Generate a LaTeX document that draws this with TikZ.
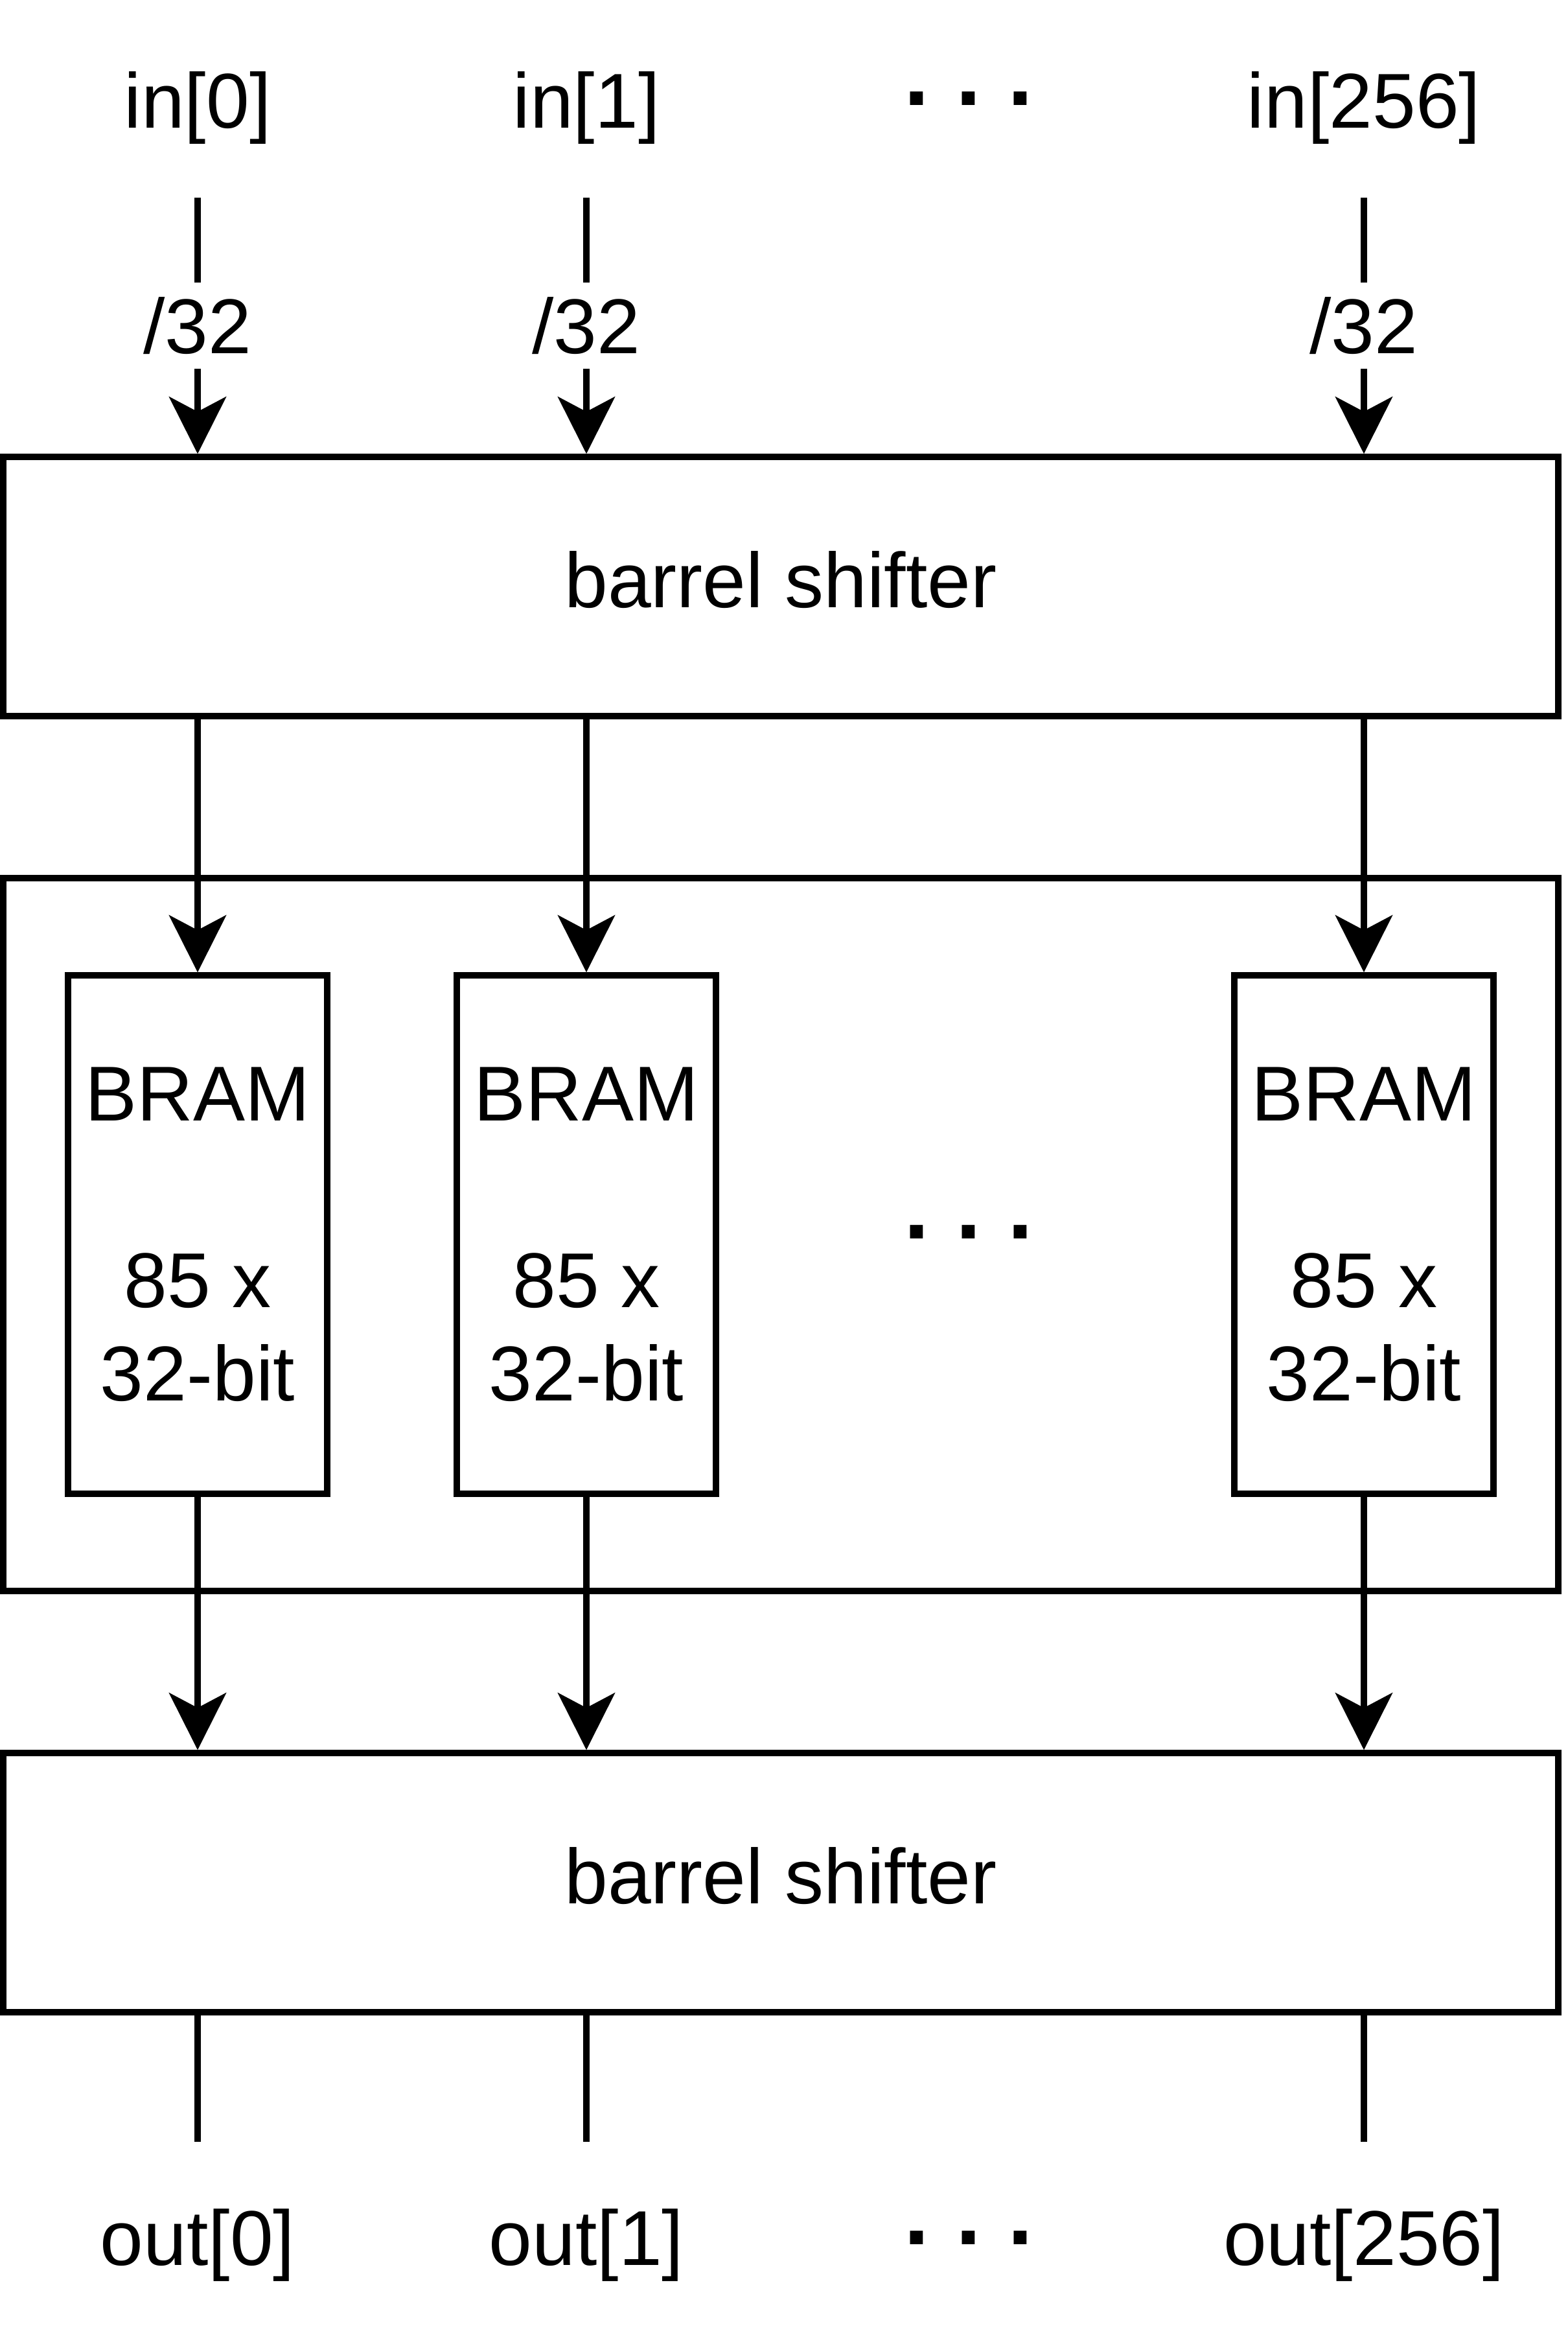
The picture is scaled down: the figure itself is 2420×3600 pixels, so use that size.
\documentclass[tikz,border=0pt]{standalone}
\usepackage{fontspec}
\setmainfont{Liberation Sans}
\usetikzlibrary{arrows.meta}
\begin{document}
\begin{tikzpicture}[x=0.1pt,y=-0.1pt,
  every node/.style={font=\fontsize{12}{14.4}\selectfont},
  box/.style={draw, line width=0.95pt, inner sep=0pt},
  wide/.style={box, minimum width=240pt, minimum height=40pt, text height=0.7em, text depth=0.05em},
  bram/.style={box, minimum width=40pt, minimum height=80pt, align=center},
  wire/.style={line width=0.95pt},
  arr/.style={wire, -{Stealth[length=8.8pt,width=8.8pt,inset=2.3pt]}},
  lbl/.style={fill=white, inner sep=0pt, minimum height=13.3pt},
  io/.style={anchor=base},
  dots/.style={anchor=base, font=\fontsize{14}{16}\selectfont\bfseries}
]
\useasboundingbox (0,0) rectangle (2420,3600);

% inputs
\node[io] (in0) at (305,197) {in[0]};
\node[io] (in1) at (905,197) {in[1]};
\node[io] (in2) at (2105,197) {in[256]};
\node[dots] (dtop) at (1495,162) {.\kern4.1pt.\kern4.1pt.};
\coordinate (s0) at (305,305);
\coordinate (s1) at (905,305);
\coordinate (s2) at (2105,305);

% blocks
\node[wide] (bs1) at (1205,905) {barrel shifter};
\node[box, minimum width=240pt, minimum height=110pt] (mem) at (1205,1905) {};
\node[bram] (b0) at (305,1905) {BRAM\\[14.4pt]85 x\\32-bit};
\node[bram] (b1) at (905,1905) {BRAM\\[14.4pt]85 x\\32-bit};
\node[bram] (b2) at (2105,1905) {BRAM\\[14.4pt]85 x\\32-bit};
\node[dots] (dmid) at (1495,1911) {.\kern4.1pt.\kern4.1pt.};
\node[wide] (bs2) at (1205,2905) {barrel shifter};

% outputs
\coordinate (e0) at (305,3305);
\coordinate (e1) at (905,3305);
\coordinate (e2) at (2105,3305);
\node[io] (out0) at (305,3495) {out[0]};
\node[io] (out1) at (905,3495) {out[1]};
\node[io] (out2) at (2105,3495) {out[256]};
\node[dots] (dbot) at (1495,3463) {.\kern4.1pt.\kern4.1pt.};

% connectors
\foreach \i in {0,1,2}{
  \draw[arr] (s\i) -- node[lbl]{/32} (s\i |- bs1.north);
  \draw[arr] (b\i.north |- bs1.south) -- (b\i.north);
  \draw[arr] (b\i.south) -- (b\i.south |- bs2.north);
  \draw[wire] (e\i |- bs2.south) -- (e\i);
}
\end{tikzpicture}
\end{document}
